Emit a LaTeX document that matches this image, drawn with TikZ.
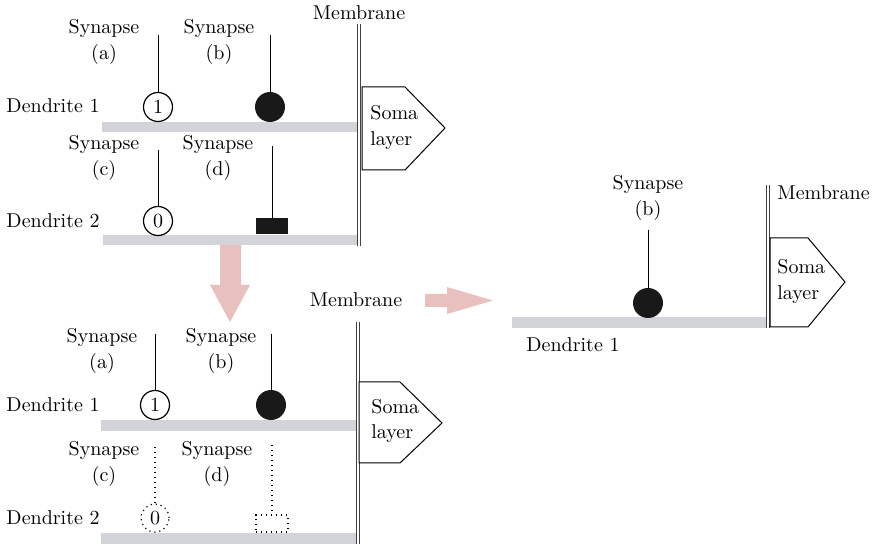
\documentclass[tikz,border=0pt]{standalone}
\usepackage{tikz}
\definecolor{dendgray}{RGB}{211,212,217}
\definecolor{arrowpink}{RGB}{232,192,190}
\tikzset{%
  synlabel/.style  = {align=center, font=\fontsize{10}{13}\selectfont},%
  somatext/.style  = {align=left, anchor=west, font=\fontsize{10}{13}\selectfont},%
  dendlabel/.style = {anchor=east},%
  emptyhead/.style = {circle, draw, line width=0.6pt, minimum size=14.5pt},%
  fullhead/.style  = {circle, fill=black!90, minimum size=15pt},%
  blockhead/.style = {rectangle, fill=black!90, minimum width=16pt, minimum height=8pt},%
  sparse/.style    = {line width=0.6pt, dash pattern=on 0.6pt off 1.9pt},%
  ghosthead/.style = {draw, sparse},%
  dendrite/.style  = {fill=dendgray},%
  membrane/.style  = {draw=black!75, double=white, double distance=1pt, line width=0.5pt},%
  soma/.style      = {draw, fill=white, line width=0.5pt},%
  stem/.style      = {line width=0.5pt}%
}

\begin{document}
\begin{tikzpicture}[x=0.5pt, y=-0.5pt, every node/.style={inner sep=0pt}]
		\useasboundingbox (0,0) rectangle (872,544);
		% upper panel
		\fill[dendrite] (102,122) rectangle (357,132);
		\fill[dendrite] (103,235) rectangle (361,245);
		\draw[membrane] (358.5,24) -- (358.5,246);
		\draw[soma] (362,87) -- (405,87) -- (445,128) -- (405,170) -- (362,170) -- cycle;
		\node[somatext] (somaA) at (370,128) {Soma\\layer};
		\node (memA) at (359,13) {Membrane};
		\node[dendlabel] (dendA1) at (100,106) {Dendrite 1};
		\node[dendlabel] (dendA2) at (100,221) {Dendrite 2};
		\node[synlabel] (synA) at (104,42) {Synapse\\(a)};
		\node[synlabel] (synB) at (219,42) {Synapse\\(b)};
		\node[synlabel] (synC) at (104,158) {Synapse\\(c)};
		\node[synlabel] (synD) at (218,158) {Synapse\\(d)};
		\node[emptyhead] (headA) at (158,107) {1};
		\node[fullhead] (headB) at (270,107) {};
		\node[emptyhead] (headC) at (158,221) {0};
		\node[blockhead] (headD) at (272,226) {};
		\coordinate (topA) at (158,35);
		\coordinate (topB) at (270,35);
		\coordinate (topC) at (158,150);
		\coordinate (topD) at (272,146);
		\draw[stem] (topA) -- (headA);
		\draw[stem] (topB) -- (headB);
		\draw[stem] (topC) -- (headC);
		\draw[stem] (topD) -- (headD);
		% arrows between panels
		\fill[arrowpink] (220,245) -- (241,245) -- (241,285) -- (250,285) -- (230,322)
			-- (210,285) -- (220,285) -- cycle;
		\fill[arrowpink] (425,294) -- (447,294) -- (447,287) -- (493,300.5) -- (447,314)
			-- (447,307) -- (425,307) -- cycle;
		% lower panel
		\fill[dendrite] (101,420) rectangle (356,431);
		\fill[dendrite] (101,533) rectangle (359,544);
		\draw[membrane] (357.5,322) -- (357.5,544);
		\draw[soma] (359,382) -- (400,382) -- (442,423) -- (400,463) -- (359,463) -- cycle;
		\node[somatext] (somaB) at (371,421) {Soma\\layer};
		\node (memB) at (356,300) {Membrane};
		\node[dendlabel] (dendB1) at (100,405) {Dendrite 1};
		\node[dendlabel] (dendB2) at (100,518) {Dendrite 2};
		\node[synlabel] (synE) at (102,351) {Synapse\\(a)};
		\node[synlabel] (synF) at (221,351) {Synapse\\(b)};
		\node[synlabel] (synG) at (104,464) {Synapse\\(c)};
		\node[synlabel] (synH) at (217,464) {Synapse\\(d)};
		\node[emptyhead] (headE) at (155,405) {1};
		\node[fullhead] (headF) at (271,405) {};
		\node[ghosthead, circle, minimum size=14pt] (headG) at (155,518) {0};
		\node[ghosthead, minimum width=16pt, minimum height=8.5pt] (headH) at (272,523.5) {};
		\coordinate (topE) at (155,334);
		\coordinate (topF) at (271,334);
		\coordinate (topG) at (155,447);
		\coordinate (topH) at (272,445);
		\draw[stem] (topE) -- (headE);
		\draw[stem] (topF) -- (headF);
		\draw[sparse] (topG) -- (headG);
		\draw[sparse] (topH) -- (headH);
		% right panel
		\fill[dendrite] (512,317) rectangle (766,328);
		\draw[membrane] (768,185) -- (768,328);
		\draw[soma] (770,238) -- (808,238) -- (845,282) -- (808,327) -- (770,327) -- cycle;
		\node[somatext] (somaC) at (777,281.5) {Soma\\layer};
		\node[anchor=west] (memC) at (777,193) {Membrane};
		\node[synlabel] (synR) at (648,198) {Synapse\\(b)};
		\node[fullhead] (headR) at (648,303) {};
		\coordinate (topR) at (648,230);
		\draw[stem] (topR) -- (headR);
		\node (dendR) at (573,345) {Dendrite 1};
\end{tikzpicture}
\end{document}
